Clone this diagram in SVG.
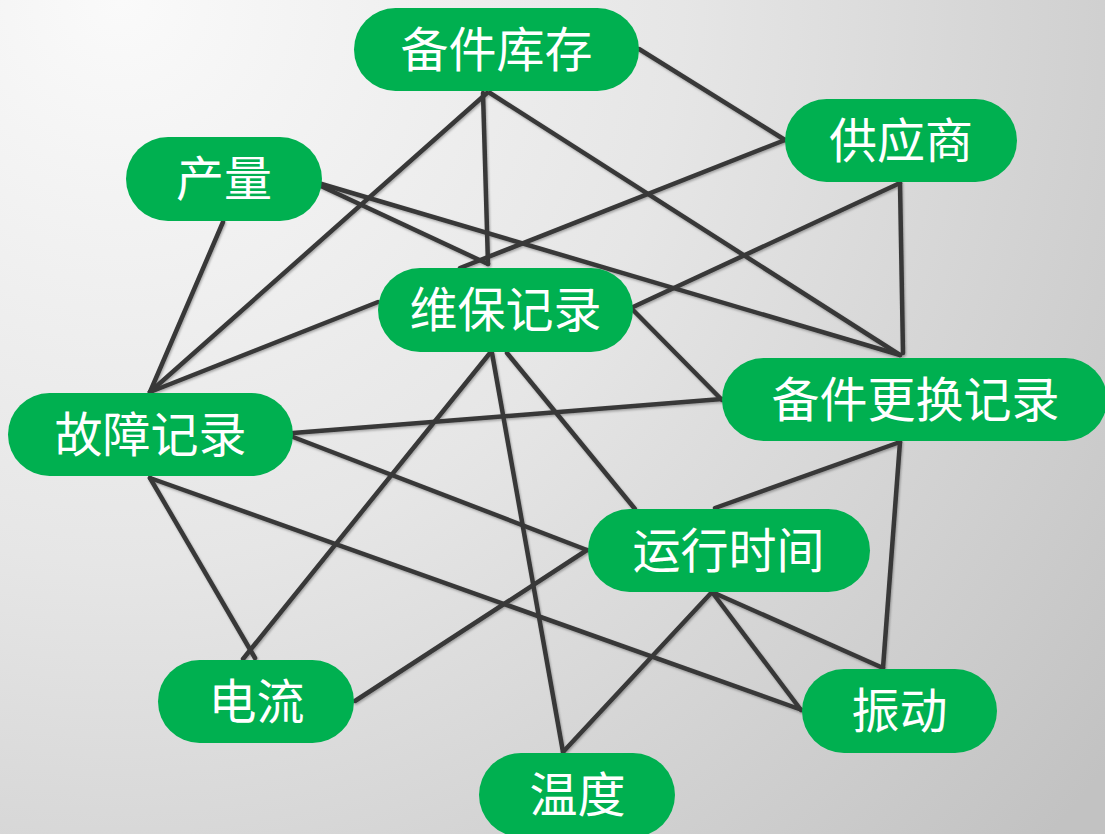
<svg xmlns="http://www.w3.org/2000/svg" width="1105" height="834" viewBox="0 0 1105 834">
<defs>
<radialGradient id="bg" cx="120" cy="0" r="1250" gradientUnits="userSpaceOnUse">
<stop offset="0" stop-color="#fafafa"/>
<stop offset="0.45" stop-color="#e6e6e6"/>
<stop offset="1" stop-color="#c2c2c2"/>
</radialGradient>
<filter id="sh" x="-10%" y="-10%" width="120%" height="120%">
<feDropShadow dx="1" dy="1.5" stdDeviation="1.2" flood-color="#000" flood-opacity="0.3"/>
</filter>
</defs>
<style>
.edge{stroke:#383838;stroke-width:4.5;stroke-linecap:round;fill:none}
.pill{fill:#00b050}
.lbl{fill:#ffffff;font-family:"Noto Sans CJK SC","Noto Sans CJK JP",sans-serif;font-size:48px;text-anchor:middle}
</style>
<rect x="0" y="0" width="1105" height="834" fill="url(#bg)"/>
<g id="connectors" filter="url(#sh)">
<line class="edge" x1="639" y1="49" x2="785" y2="140"/>
<line class="edge" x1="487" y1="93" x2="150" y2="392"/>
<line class="edge" x1="483" y1="93" x2="488" y2="264"/>
<line class="edge" x1="490" y1="93" x2="900" y2="355"/>
<line class="edge" x1="785" y1="140" x2="460" y2="268"/>
<line class="edge" x1="900" y1="183" x2="903" y2="353"/>
<line class="edge" x1="900" y1="183" x2="633" y2="307"/>
<line class="edge" x1="308" y1="180" x2="488" y2="264"/>
<line class="edge" x1="308" y1="180" x2="900" y2="355"/>
<line class="edge" x1="223" y1="222" x2="150" y2="392"/>
<line class="edge" x1="378" y1="302" x2="150" y2="392"/>
<line class="edge" x1="633" y1="310" x2="722" y2="400"/>
<line class="edge" x1="293" y1="433" x2="722" y2="399"/>
<line class="edge" x1="293" y1="437" x2="587" y2="550"/>
<line class="edge" x1="150" y1="478" x2="255" y2="658"/>
<line class="edge" x1="150" y1="478" x2="802" y2="710"/>
<line class="edge" x1="490" y1="353" x2="243" y2="659"/>
<line class="edge" x1="492" y1="353" x2="563" y2="752"/>
<line class="edge" x1="507" y1="353" x2="635" y2="509"/>
<line class="edge" x1="587" y1="550" x2="355" y2="701"/>
<line class="edge" x1="900" y1="442" x2="715" y2="508"/>
<line class="edge" x1="900" y1="442" x2="883" y2="668"/>
<line class="edge" x1="712" y1="592" x2="563" y2="752"/>
<line class="edge" x1="712" y1="592" x2="801" y2="710"/>
<line class="edge" x1="712" y1="592" x2="883" y2="668"/>
</g>
<g id="n-beijiankucun"><rect class="pill" x="354" y="8" width="285" height="83" rx="41.5"/><text class="lbl" x="496.5" y="66.5">备件库存</text></g>
<g id="n-gongyingshang"><rect class="pill" x="785" y="99" width="232" height="83" rx="41.5"/><text class="lbl" x="901" y="157.5">供应商</text></g>
<g id="n-chanliang"><rect class="pill" x="126" y="137" width="196" height="84" rx="42"/><text class="lbl" x="224" y="196">产量</text></g>
<g id="n-weibaojilu"><rect class="pill" x="378" y="268" width="255" height="84" rx="42"/><text class="lbl" x="505.5" y="327">维保记录</text></g>
<g id="n-beijiangenghuan"><rect class="pill" x="722" y="358" width="385" height="83" rx="41.5"/><text class="lbl" x="915.5" y="416.5">备件更换记录</text></g>
<g id="n-guzhangjilu"><rect class="pill" x="8" y="393" width="285" height="83" rx="41.5"/><text class="lbl" x="150.5" y="451.5">故障记录</text></g>
<g id="n-yunxingshijian"><rect class="pill" x="588" y="509" width="282" height="83" rx="41.5"/><text class="lbl" x="728.5" y="567.5">运行时间</text></g>
<g id="n-dianliu"><rect class="pill" x="158" y="660" width="196" height="83" rx="41.5"/><text class="lbl" x="256.5" y="718.5">电流</text></g>
<g id="n-zhendong"><rect class="pill" x="802" y="669" width="195" height="84" rx="42"/><text class="lbl" x="899.5" y="728">振动</text></g>
<g id="n-wendu"><rect class="pill" x="479" y="753" width="196" height="84" rx="42"/><text class="lbl" x="577.5" y="812">温度</text></g>
</svg>
